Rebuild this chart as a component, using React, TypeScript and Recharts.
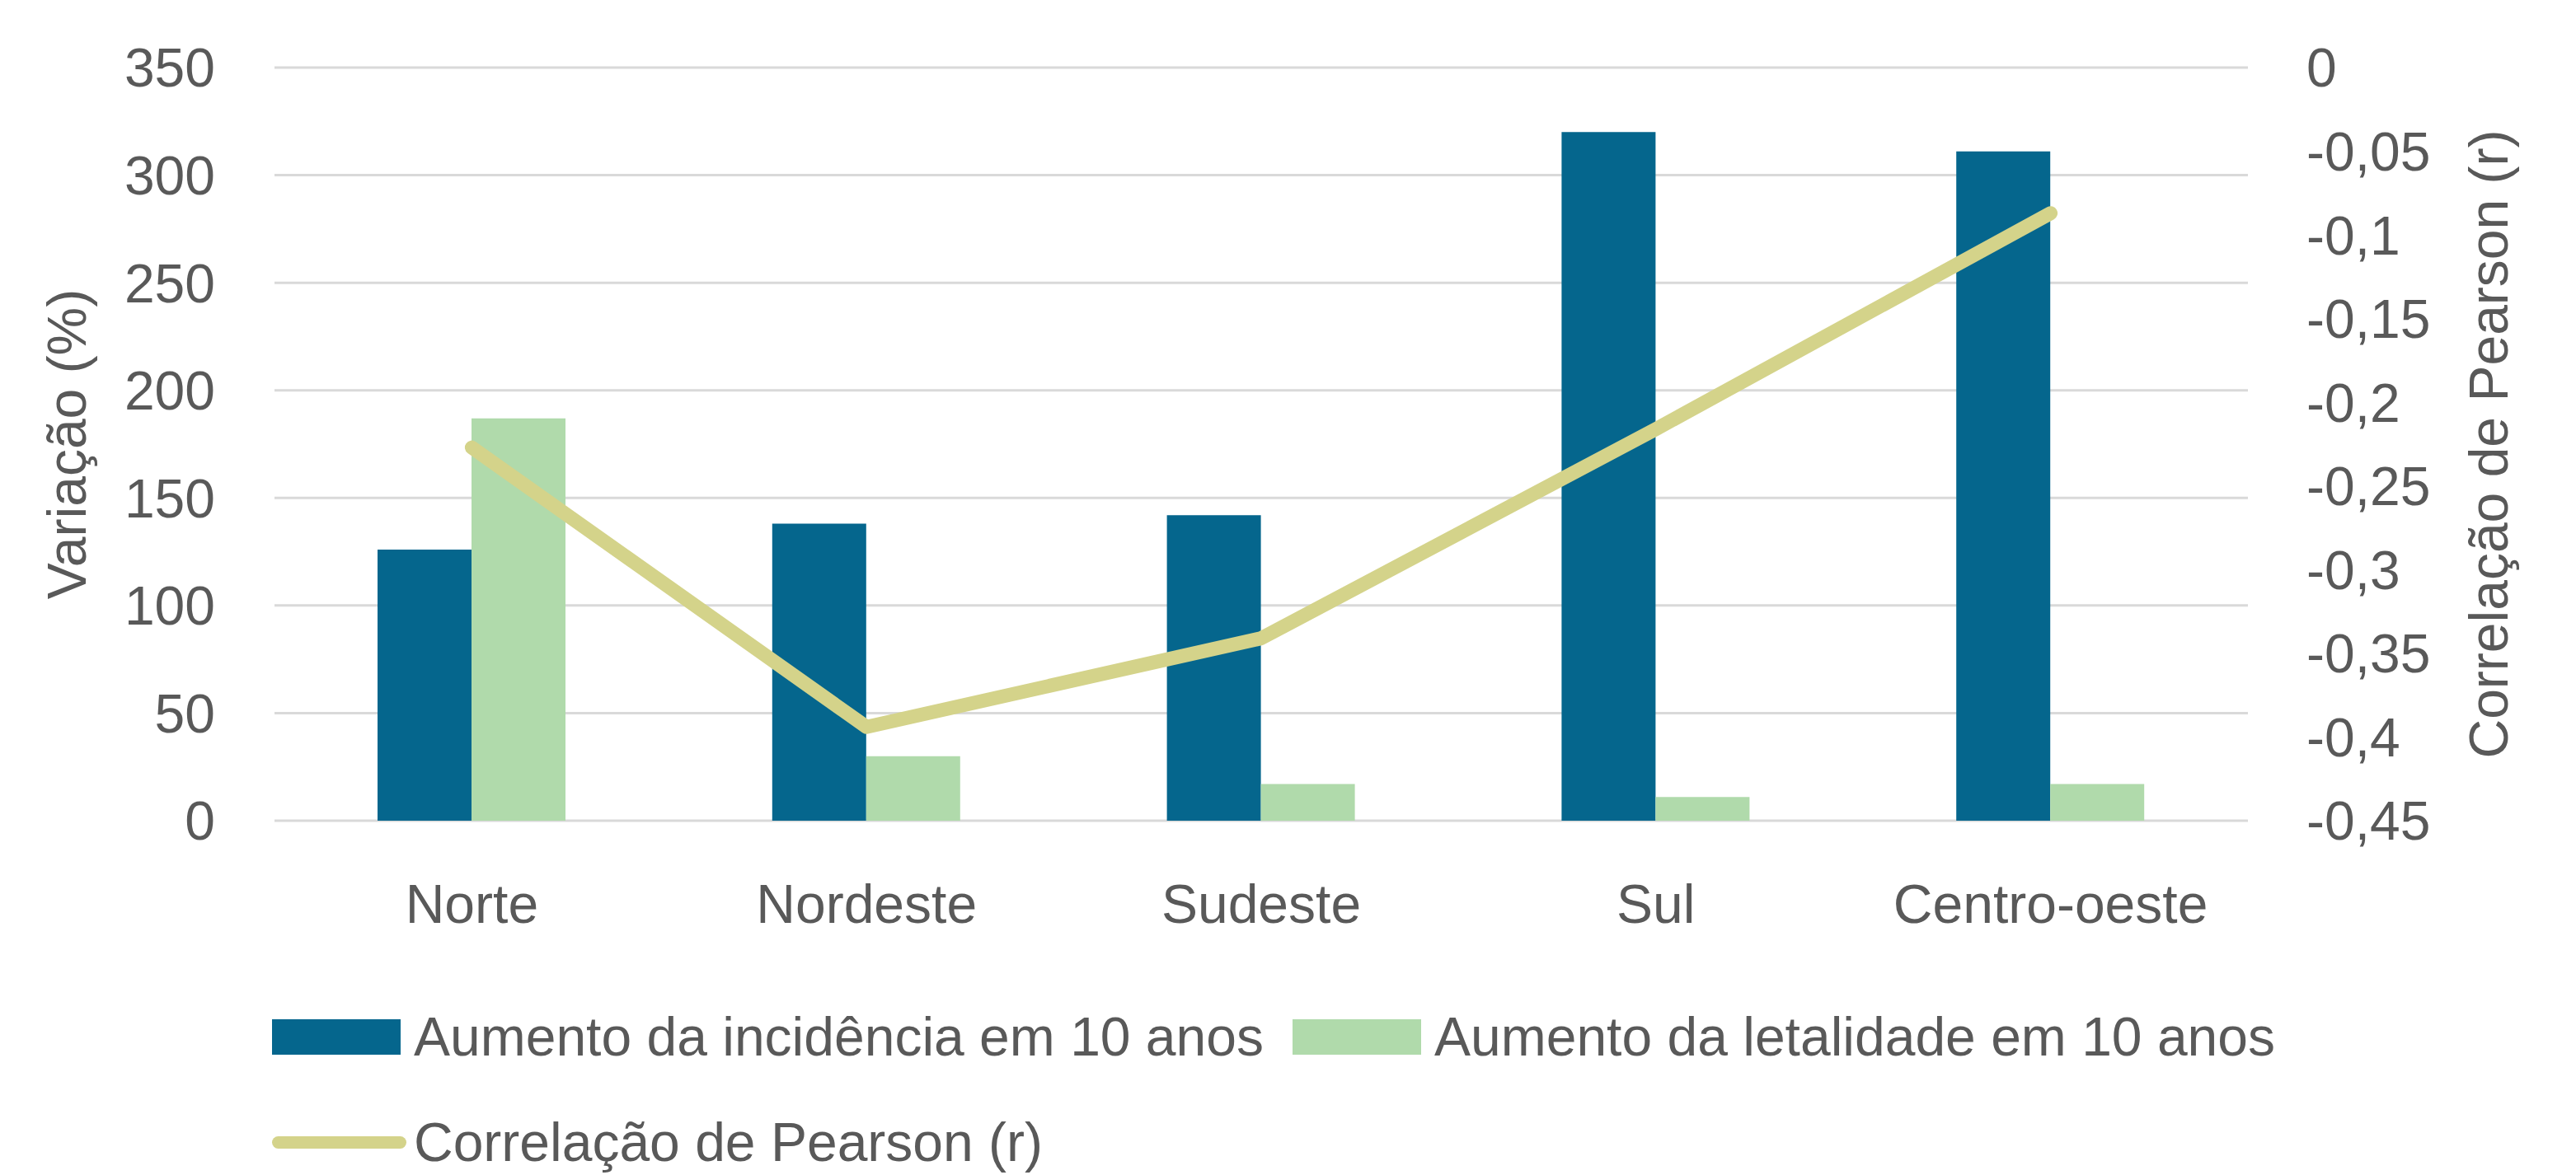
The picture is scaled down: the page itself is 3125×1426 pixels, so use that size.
import React from "react";
import {
  ComposedChart,
  Bar,
  Line,
  XAxis,
  YAxis,
  CartesianGrid,
  Legend,
  Label,
} from "recharts";

const regions = ["Norte", "Nordeste", "Sudeste", "Sul", "Centro-oeste"];
const incidencia = [126, 138, 142, 320, 311];
const letalidade = [187, 30, 17, 11, 17];
const pearson = [-0.227, -0.394, -0.341, -0.216, -0.087];

const leftTicks = [0, 50, 100, 150, 200, 250, 300, 350];
const rightTicks = [0, -0.05, -0.1, -0.15, -0.2, -0.25, -0.3, -0.35, -0.4, -0.45];

const COLORS = {
  incidencia: "#05668D",
  letalidade: "#B0DAAB",
  pearson: "#D4D38A",
  grid: "#D9D9D9",
  text: "#595959",
};

const FONT = "'Liberation Sans', Arial, sans-serif";
const FS = 66;

const data = regions.map((name, i) => ({
  name,
  incidencia: incidencia[i],
  letalidade: letalidade[i],
  pearson: pearson[i],
}));

function ChartLegend(props: any) {
  const payload = props.payload || [];
  return (
    <div
      style={{
        display: "flex",
        flexWrap: "wrap",
        width: 2500,
        height: 200,
        fontFamily: FONT,
        fontSize: FS,
        color: COLORS.text,
      }}
    >
      {payload.map((entry: any) => (
        <div
          key={entry.value}
          style={{ display: "flex", alignItems: "center", height: 128, marginRight: 35 }}
        >
          {entry.type === "line" ? (
            <div
              style={{ width: 163, height: 15, borderRadius: 8, background: entry.color, marginRight: 9 }}
            />
          ) : (
            <div style={{ width: 156, height: 43, background: entry.color, marginRight: 16 }} />
          )}
          <span style={{ whiteSpace: "nowrap" }}>{entry.value}</span>
        </div>
      ))}
    </div>
  );
}

export default function App() {
  const tick = { fill: COLORS.text, fontSize: FS, fontFamily: FONT };
  return (
    <div style={{ position: "absolute", left: 0, top: 0, background: "#fff" }}>
      <ComposedChart
        width={3125}
        height={1426}
        data={data}
        margin={{ top: 82, right: 0, left: 0, bottom: 0 }}
        barGap={0}
        style={{ fontFamily: FONT }}
      >
        <CartesianGrid yAxisId="left" horizontal vertical={false} stroke={COLORS.grid} strokeWidth={3} />
        <XAxis
          dataKey="name"
          axisLine={false}
          tickLine={false}
          tickSize={0}
          tickMargin={77}
          height={230}
          tick={tick}
        />
        <YAxis
          yAxisId="left"
          orientation="left"
          width={333}
          domain={[0, 350]}
          ticks={leftTicks}
          axisLine={false}
          tickLine={false}
          tickSize={0}
          tickMargin={72}
          tick={tick}
        >
          <Label
            value="Variação (%)"
            angle={-90}
            position="insideLeft"
            offset={81}
            style={{ textAnchor: "middle", fill: COLORS.text, fontSize: FS, fontFamily: FONT }}
          />
        </YAxis>
        <YAxis
          yAxisId="right"
          orientation="right"
          width={398}
          domain={[-0.45, 0]}
          ticks={rightTicks}
          axisLine={false}
          tickLine={false}
          tickSize={0}
          tickMargin={71}
          tick={tick}
          tickFormatter={(v: number) => String(v).replace(".", ",")}
        >
          <Label
            value="Correlação de Pearson (r)"
            angle={-90}
            position="insideRight"
            offset={106}
            style={{ textAnchor: "middle", fill: COLORS.text, fontSize: FS, fontFamily: FONT }}
          />
        </YAxis>
        <Bar
          yAxisId="left"
          dataKey="incidencia"
          name="Aumento da incidência em 10 anos"
          fill={COLORS.incidencia}
          barSize={114}
          isAnimationActive={false}
        />
        <Bar
          yAxisId="left"
          dataKey="letalidade"
          name="Aumento da letalidade em 10 anos"
          fill={COLORS.letalidade}
          barSize={114}
          isAnimationActive={false}
        />
        <Line
          yAxisId="right"
          type="linear"
          dataKey="pearson"
          name="Correlação de Pearson (r)"
          stroke={COLORS.pearson}
          strokeWidth={17}
          strokeLinecap="round"
          strokeLinejoin="round"
          dot={false}
          activeDot={false}
          isAnimationActive={false}
        />
        <Legend
          content={<ChartLegend />}
          wrapperStyle={{ top: 1194, left: 330, bottom: "auto", width: 2500 }}
        />
      </ComposedChart>
    </div>
  );
}
